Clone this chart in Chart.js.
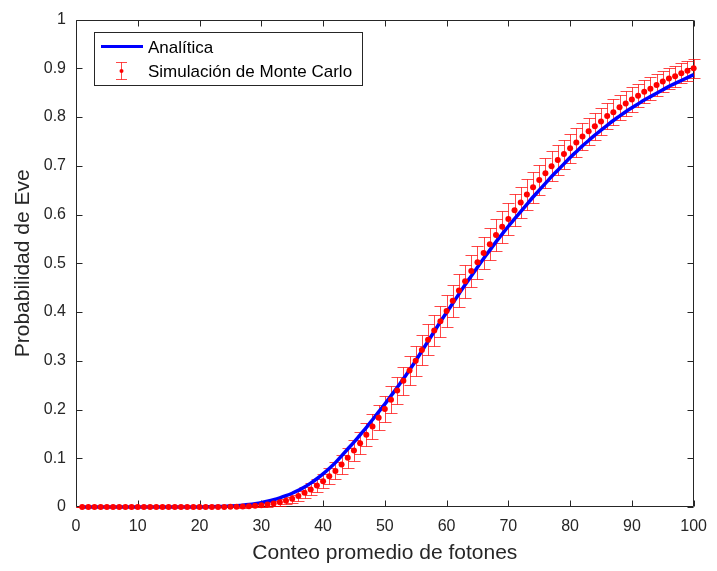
<!DOCTYPE html>
<html><head><meta charset="utf-8">
<script src="https://cdn.jsdelivr.net/npm/chart.js@4.4.0/dist/chart.umd.min.js"></script>
<style>html,body{margin:0;padding:0;background:#fff;}#wrap{width:717px;height:571px;}</style>
</head><body><div id="wrap"><canvas id="c" width="717" height="571"></canvas></div>
<script>
const photonCounts = [1,2,3,4,5,6,7,8,9,10,11,12,13,14,15,16,17,18,19,20,21,22,23,24,25,26,27,28,29,30,31,32,33,34,35,36,37,38,39,40,41,42,43,44,45,46,47,48,49,50,51,52,53,54,55,56,57,58,59,60,61,62,63,64,65,66,67,68,69,70,71,72,73,74,75,76,77,78,79,80,81,82,83,84,85,86,87,88,89,90,91,92,93,94,95,96,97,98,99,100];
const analytic = [0,0,0,0,0,0,0,0,0,0,0,0,0,0,0,0,0,0.0001,0.0001,0.0002,
0.0003,0.0005,0.0008,0.0012,0.0018,0.0026,0.0036,0.0050,0.0068,0.0090,
0.0118,0.0150,0.0188,0.0232,0.0282,0.0340,0.041,0.049,0.058,0.068,
0.079,0.091,0.105,0.119,0.133,0.148,0.163,0.179,0.195,0.211,
0.228,0.245,0.263,0.281,0.300,0.320,0.340,0.360,0.380,0.399,
0.418,0.437,0.456,0.474,0.492,0.510,0.527,0.544,0.560,0.576,
0.591,0.606,0.621,0.636,0.650,0.664,0.678,0.691,0.704,0.717,
0.729,0.741,0.752,0.763,0.773,0.783,0.793,0.802,0.811,0.819,
0.827,0.835,0.842,0.849,0.856,0.863,0.869,0.875,0.881,0.887];
const monteCarlo = [0,0,0,0,0,0,0,0,0,0,0,0,0,0,0,0,0,0,0,0,0,0,0,0,
0.0003,0.0006,0.001,0.0017,0.0025,0.0035,
0.005,0.007,0.0095,0.0129,0.017,0.0225,0.029,0.036,0.044,0.053,
0.063,0.074,0.087,0.101,0.116,0.131,0.148,0.165,0.183,0.201,
0.220,0.239,0.259,0.280,0.300,0.322,0.343,0.362,0.381,0.402,
0.423,0.444,0.463,0.484,0.502,0.521,0.539,0.558,0.575,0.591,
0.609,0.625,0.641,0.656,0.671,0.685,0.699,0.712,0.724,0.736,
0.748,0.760,0.771,0.781,0.791,0.802,0.810,0.820,0.828,0.836,
0.844,0.852,0.858,0.866,0.873,0.879,0.884,0.890,0.895,0.900];
const monteCarloErr = [0,0,0,0,0,0,0,0,0,0,0,0,0,0,0,0,0,0,0,0,0,0,0,0,
0.0011,0.0016,0.0021,0.0027,0.0033,0.0039,
0.0047,0.0056,0.0065,0.0075,0.0086,0.0099,0.0112,0.0124,0.0137,0.0149,
0.0162,0.0175,0.0188,0.0201,0.0214,0.0225,0.0237,0.0248,0.0258,0.0267,
0.0276,0.0284,0.0292,0.0299,0.0306,0.0312,0.0317,0.0321,0.0324,0.0327,
0.0329,0.0331,0.0332,0.0333,0.0333,0.0333,0.0332,0.0331,0.0330,0.0328,
0.0325,0.0323,0.0320,0.0317,0.0313,0.0310,0.0306,0.0302,0.0298,0.0294,
0.0290,0.0285,0.0280,0.0276,0.0271,0.0266,0.0262,0.0256,0.0252,0.0247,
0.0242,0.0237,0.0233,0.0227,0.0222,0.0218,0.0214,0.0209,0.0204,0.0200];
const xTickLabels = ['0','10','20','30','40','50','60','70','80','90','100'];
const yTickLabels = ['0','0.1','0.2','0.3','0.4','0.5','0.6','0.7','0.8','0.9','1'];
const xTitle = 'Conteo promedio de fotones';
const yTitle = 'Probabilidad de Eve';
const seriesNames = ['Analítica', 'Simulación de Monte Carlo'];

const AX = '#262626';
const FONT = '"Liberation Sans", Arial, Helvetica, sans-serif';
const ERR_COLOR = 'rgba(255,0,0,0.72)';

const boxPlugin = {
  id: 'matlabBox',
  beforeDatasetsDraw(chart) {
    const {ctx, chartArea: a, scales: {x, y}} = chart;
    ctx.save();
    ctx.strokeStyle = AX; ctx.lineWidth = 1;
    const L = Math.round(a.left) + 0.5, R = Math.round(a.right) - 0.5;
    const T = Math.round(a.top) + 0.5, B = Math.round(a.bottom) - 0.5;
    ctx.beginPath();
    ctx.rect(L, T, R - L, B - T);
    const tl = 6;
    x.ticks.forEach(t => {
      const px = Math.round(x.getPixelForValue(t.value)) + 0.5;
      ctx.moveTo(px, B); ctx.lineTo(px, B - tl);
      ctx.moveTo(px, T); ctx.lineTo(px, T + tl);
    });
    y.ticks.forEach(t => {
      const py = Math.round(y.getPixelForValue(t.value)) + 0.5;
      ctx.moveTo(L, py); ctx.lineTo(L + tl, py);
      ctx.moveTo(R, py); ctx.lineTo(R - tl, py);
    });
    ctx.stroke();
    // error bars
    ctx.strokeStyle = ERR_COLOR; ctx.lineWidth = 1;
    ctx.beginPath();
    photonCounts.forEach((c, i) => {
      const e = monteCarloErr[i];
      const px = Math.round(x.getPixelForValue(c)) + 0.5;
      const yt = Math.round(y.getPixelForValue(monteCarlo[i] + e)) + 0.5;
      const yb = Math.round(y.getPixelForValue(monteCarlo[i] - e)) + 0.5;
      ctx.moveTo(px, yt); ctx.lineTo(px, yb);
      ctx.moveTo(px - 6, yt); ctx.lineTo(px + 6, yt);
      ctx.moveTo(px - 6, yb); ctx.lineTo(px + 6, yb);
    });
    ctx.stroke();
    ctx.restore();
  },
  afterDraw(chart) {
    const {ctx} = chart;
    ctx.save();
    const bx = 94.5, by = 32.5, bw = 268, bh = 53;
    ctx.fillStyle = '#fff';
    ctx.fillRect(bx, by, bw, bh);
    ctx.strokeStyle = AX; ctx.lineWidth = 1;
    ctx.strokeRect(bx, by, bw, bh);
    ctx.strokeStyle = '#0000ff'; ctx.lineWidth = 3;
    ctx.beginPath(); ctx.moveTo(101, 46.5); ctx.lineTo(143, 46.5); ctx.stroke();
    ctx.strokeStyle = ERR_COLOR; ctx.lineWidth = 1;
    ctx.beginPath();
    ctx.moveTo(121.5, 62.5); ctx.lineTo(121.5, 79.5);
    ctx.moveTo(116, 62.5); ctx.lineTo(127, 62.5);
    ctx.moveTo(116, 79.5); ctx.lineTo(127, 79.5);
    ctx.stroke();
    ctx.fillStyle = '#ff0000';
    ctx.beginPath(); ctx.arc(121.5, 71, 2, 0, Math.PI * 2); ctx.fill();
    ctx.fillStyle = '#000';
    ctx.font = '17px ' + FONT;
    ctx.textBaseline = 'middle'; ctx.textAlign = 'left';
    ctx.fillText(seriesNames[0], 148, 48);
    ctx.fillText(seriesNames[1], 148, 72);
    ctx.restore();
  }
};

new Chart(document.getElementById('c'), {
  type: 'scatter',
  data: {
    datasets: [
      {
        label: seriesNames[1],
        data: photonCounts.map((c, i) => ({x: c, y: monteCarlo[i]})),
        pointRadius: 3, pointBorderWidth: 0,
        pointBackgroundColor: '#ff0000', pointBorderColor: '#ff0000',
        showLine: false, clip: false, order: 0
      },
      {
        label: seriesNames[0],
        data: photonCounts.map((c, i) => ({x: c, y: analytic[i]})),
        showLine: true, borderColor: '#0000ff', borderWidth: 3.5,
        pointRadius: 0, cubicInterpolationMode: 'monotone', clip: false, order: 1
      }
    ]
  },
  options: {
    responsive: false, animation: false, devicePixelRatio: 1,
    layout: {padding: {top: 14, right: 17, left: 0, bottom: 0}},
    plugins: {legend: {display: false}, tooltip: {enabled: false}},
    scales: {
      x: {
        type: 'linear', min: 0, max: 100,
        grid: {display: false, drawTicks: false, tickLength: 0}, border: {display: false},
        ticks: {stepSize: 10, autoSkip: false, maxRotation: 0, padding: 10,
          color: AX, font: {family: FONT, size: 16},
          callback: v => xTickLabels[Math.round(v / 10)]},
        title: {display: true, text: xTitle, color: AX, font: {family: FONT, size: 21}, padding: {top: 0, bottom: 5}},
        afterFit: s => { s.height = 64; }
      },
      y: {
        type: 'linear', min: 0, max: 1,
        grid: {display: false, drawTicks: false, tickLength: 0}, border: {display: false},
        ticks: {stepSize: 0.1, autoSkip: false, padding: 10,
          color: AX, font: {family: FONT, size: 16},
          callback: v => yTickLabels[Math.round(v * 10)]},
        title: {display: true, text: yTitle, color: AX, font: {family: FONT, size: 21}, padding: {top: 11, bottom: 0}},
        afterFit: s => { s.width = 76; }
      }
    }
  },
  plugins: [boxPlugin]
});
</script></body></html>
